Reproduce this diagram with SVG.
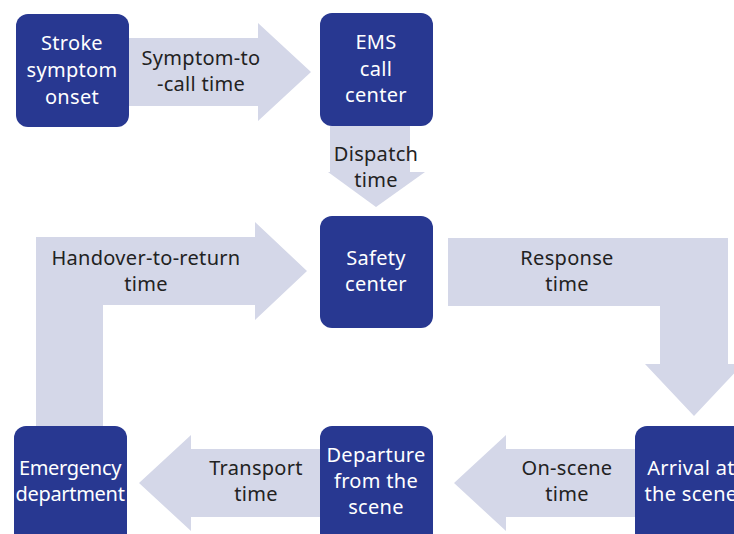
<svg xmlns="http://www.w3.org/2000/svg" width="734" height="534" viewBox="0 0 734 534">
<style>
.box{fill:#283891}
.arr{fill:#d4d7e8}
text{font-family:"Noto Sans","Open Sans",sans-serif;font-size:20px;letter-spacing:0.3px;text-anchor:middle}
.w{fill:#ffffff}
.d{fill:#222222}
.t{letter-spacing:-0.3px}
</style>
<rect width="734" height="534" fill="#ffffff"/>
<g id="connectors">
<g id="c1"><polygon class="arr" points="129,38 258,38 258,23 311,72 258,121 258,106 129,106"/><text class="d" x="201" y="65">Symptom-to</text><text class="d" x="201" y="91">-call time</text></g>
<g id="c2"><polygon class="arr" points="330,126 410,126 410,172 425,172 376,207 328,172 330,172"/><text class="d" x="376" y="161">Dispatch</text><text class="d" x="376" y="187">time</text></g>
<g id="c3"><polygon class="arr" points="36,426 36,237 255,237 255,222 307,271 255,320 255,305 103,305 103,426"/><text class="d" x="146" y="265">Handover-to-return</text><text class="d" x="146" y="291">time</text></g>
<g id="c4"><polygon class="arr" points="448,238 728,238 728,364 743,364 694,416 645,364 660,364 660,306 448,306"/><text class="d" x="567" y="265">Response</text><text class="d" x="567" y="291">time</text></g>
<g id="c5"><polygon class="arr" points="635,449 506,449 506,435 454,483 506,531 506,517 635,517"/><text class="d" x="567" y="475">On-scene</text><text class="d" x="567" y="501">time</text></g>
<g id="c6"><polygon class="arr" points="320,449 191,449 191,435 139,483 191,531 191,517 320,517"/><text class="d" x="256" y="475">Transport</text><text class="d" x="256" y="501">time</text></g>
</g>
<g id="n1"><rect class="box" x="16" y="14" width="113" height="113" rx="12"/><text class="w" x="72" y="50">Stroke</text><text class="w" x="72" y="77">symptom</text><text class="w" x="72" y="104">onset</text></g>
<g id="n2"><rect class="box" x="320" y="13" width="113" height="113" rx="12"/><text class="w" x="376" y="49">EMS</text><text class="w" x="376" y="76">call</text><text class="w" x="376" y="102">center</text></g>
<g id="n3"><rect class="box" x="320" y="216" width="113" height="112" rx="12"/><text class="w" x="376" y="265">Safety</text><text class="w" x="376" y="291">center</text></g>
<g id="n4"><rect class="box" x="14" y="426" width="113" height="120" rx="12"/><text class="w t" x="70" y="475">Emergency</text><text class="w t" x="70" y="501">department</text></g>
<g id="n5"><rect class="box" x="320" y="426" width="113" height="120" rx="12"/><text class="w" x="376" y="462">Departure</text><text class="w" x="376" y="488">from the</text><text class="w" x="376" y="514">scene</text></g>
<g id="n6"><rect class="box" x="635" y="426" width="113" height="120" rx="12"/><text class="w" x="691" y="475">Arrival at</text><text class="w" x="691" y="501">the scene</text></g>
</svg>
